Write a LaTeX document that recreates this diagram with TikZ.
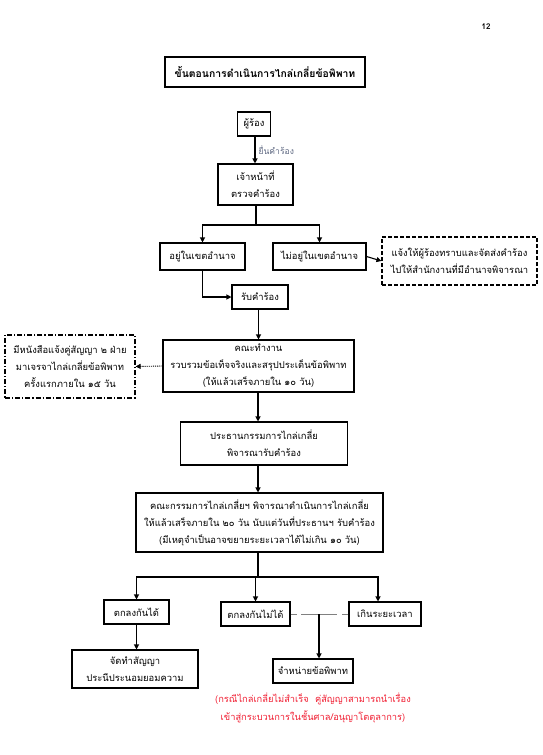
\documentclass[tikz,border=0pt]{standalone}
\usepackage{fontspec}
\setmainfont[Script=Thai]{Loma}
\usetikzlibrary{arrows.meta}
\definecolor{labelgray}{RGB}{95,105,130}
\definecolor{notered}{RGB}{240,30,50}
\tikzset{
  box/.style={draw, line width=1.1pt, align=center, inner sep=1pt, font=\fontsize{9.4}{17}\selectfont},
  flow/.style={line width=1.1pt, -{Triangle[length=5pt,width=5pt]}},
  link/.style={line width=1.1pt},
  dashbox/.style={dash pattern=on 4pt off 2pt},
  dotdashbox/.style={dash pattern=on 5pt off 2pt on 1.2pt off 2pt},
}
\begin{document}
\begin{tikzpicture}[x=1pt,y=-1pt]
    \useasboundingbox (0,0) rectangle (542,755);

    \node[font=\bfseries\fontsize{8}{10}\selectfont] (page) at (486,27) {12};

    \node[box, font=\bfseries\fontsize{10.4}{12}\selectfont, minimum width=200, minimum height=30] (title) at (265,72) {ขั้นตอนการดำเนินการไกล่เกลี่ยข้อพิพาท};

    \node[box, minimum width=33, minimum height=24] (claimant) at (254,124) {ผู้ร้อง};
    \node[box, minimum width=75, minimum height=41] (officer) at (255.5,184.5) {เจ้าหน้าที่\\ตรวจคำร้อง};
    \node[box, minimum width=85, minimum height=27] (inarea) at (202.5,256.5) {อยู่ในเขตอำนาจ};
    \node[box, minimum width=93, minimum height=27] (outarea) at (319.5,256.5) {ไม่อยู่ในเขตอำนาจ};
    \node[box, dashbox, minimum width=155, minimum height=48] (forward) at (459.5,261) {แจ้งให้ผู้ร้องทราบและจัดส่งคำร้อง\\ไปให้สำนักงานที่มีอำนาจพิจารณา};
    \node[box, minimum width=56, minimum height=24] (accept) at (260,297) {รับคำร้อง};
    \node[box, minimum width=191, minimum height=52] (team) at (258.5,366) {คณะทำงาน\\รวบรวมข้อเท็จจริงและสรุปประเด็นข้อพิพาท\\(ให้แล้วเสร็จภายใน ๑๐ วัน)};
    \node[box, dotdashbox, minimum width=130, minimum height=63] (letter) at (70,366.5) {มีหนังสือแจ้งคู่สัญญา ๒ ฝ่าย\\มาเจรจาไกล่เกลี่ยข้อพิพาท\\ครั้งแรกภายใน ๑๕ วัน};
    \node[box, minimum width=167, minimum height=43] (chair) at (264,443.5) {ประธานกรรมการไกล่เกลี่ย\\พิจารณารับคำร้อง};
    \node[box, minimum width=247, minimum height=59] (board) at (259.5,522.5) {คณะกรรมการไกล่เกลี่ยฯ พิจารณาดำเนินการไกล่เกลี่ย\\ให้แล้วเสร็จภายใน ๒๐ วัน นับแต่วันที่ประธานฯ รับคำร้อง\\(มีเหตุจำเป็นอาจขยายระยะเวลาได้ไม่เกิน ๑๐ วัน)};
    \node[box, minimum width=65, minimum height=24] (agree) at (136.5,612) {ตกลงกันได้};
    \node[box, minimum width=69, minimum height=24] (disagree) at (255.5,614) {ตกลงกันไม่ได้};
    \node[box, minimum width=72, minimum height=24] (overtime) at (385,614) {เกินระยะเวลา};
    \node[box, minimum width=126, minimum height=38] (contract) at (135,669) {จัดทำสัญญา\\ประนีประนอมยอมความ};
    \node[box, minimum width=80, minimum height=24] (dispose) at (313,671) {จำหน่ายข้อพิพาท};
    \node[align=center, text=notered, font=\fontsize{9.3}{18}\selectfont] (note) at (313,708) {(กรณีไกล่เกลี่ยไม่สำเร็จ\ \ คู่สัญญาสามารถนำเรื่อง\\เข้าสู่กระบวนการในชั้นศาล/อนุญาโตตุลาการ)};

    \coordinate (split1) at (256,225);
    \coordinate (split2) at (258,577);
    \coordinate (merge) at (319,614);

    \draw[flow] (claimant.south -| 255,0) -- (officer.north -| 255,0)
        node[midway, right, text=labelgray, font=\fontsize{8.6}{10}\selectfont, inner sep=3pt] {ยื่นคำร้อง};
    \draw[link] (officer.south -| split1) -- (split1);
    \draw[flow] (split1) -| (inarea.north);
    \draw[flow] (split1) -| (outarea.north);
    \draw[flow] (outarea.east) -- (forward.west);
    \draw[flow] (inarea.south) |- (accept.west);
    \draw[flow] (accept.south -| team.north) -- (team.north);
    \draw[flow, densely dotted, line width=0.9pt] (team.west) -- (letter.east);
    \draw[flow] (team.south -| 258,0) -- (chair.north -| 258,0);
    \draw[flow] (chair.south -| 258,0) -- (board.north -| 258,0);
    \draw[link] (board.south -| split2) -- (split2);
    \draw[flow] (split2) -| (agree.north);
    \draw[flow] (split2) -| (disagree.north);
    \draw[flow] (split2) -| (overtime.north -| 378,0);
    \draw[flow] (agree.south) -- (contract.north -| agree.south);
    \draw[gray, line width=1pt] (disagree.east) -- ++(6,0) (merge) -- ++(-18,0);
    \draw[gray, line width=1pt] (overtime.west) -- ++(-6,0) (merge) -- ++(18,0);
    \draw[flow] (merge) -- (dispose.north -| merge);
\end{tikzpicture}
\end{document}
